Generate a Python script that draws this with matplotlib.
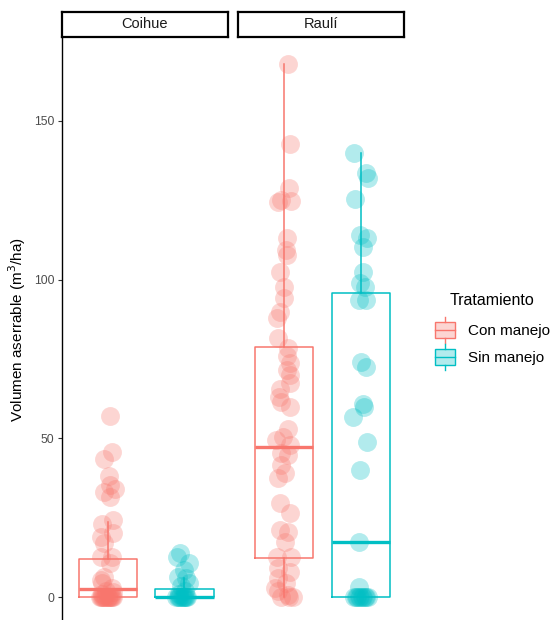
import numpy as np
import matplotlib
matplotlib.use("Agg")
import matplotlib.pyplot as plt
from matplotlib.patches import Rectangle, Patch
from matplotlib.lines import Line2D
from matplotlib.legend_handler import HandlerBase

plt.rcParams['font.family'] = ['Liberation Sans', 'DejaVu Sans']

especies = ["Coihue", "Raulí"]
tratamientos = ["Con manejo", "Sin manejo"]
colores = ["#F8766D", "#00BFC4"]

# valores (m3/ha) y desplazamiento horizontal del jitter
coihue_con = [57.0, 45.8, 43.4, 38.1, 35.3, 33.2, 33.9, 31.6, 24.3, 23.0, 20.1, 18.8,
              16.9, 12.7, 12.7, 10.6, 6.4, 4.3, 5.5, 3.0, 2.0, 1.0, 1.5,
              0, 0, 0, 0, 0, 0, 0, 0, 0, 0, 0, 0, 0, 0]
coihue_con_jit = [0.02, 0.03, -0.03, 0.01, 0.02, -0.03, 0.05, 0.02, 0.04, -0.04, 0.04, -0.05,
                  -0.03, 0.03, -0.05, 0.02, -0.03, -0.04, -0.05, 0.03, -0.01, -0.04, 0.04,
                  -0.054, -0.040, -0.025, -0.011, 0.004, 0.018, 0.033, 0.040, -0.047,
                  -0.018, 0.011, 0.025, -0.033, 0.000]
coihue_sin = [13.8, 12.6, 10.8, 8.5, 6.4, 5.9, 4.3, 3.5, 2.0, 1.0,
              0, 0, 0, 0, 0, 0, 0, 0, 0, 0]
coihue_sin_jit = [-0.029, -0.051, 0.031, -0.005, -0.043, 0.014, 0.031, -0.022, 0.007, -0.036,
                  -0.058, -0.043, -0.029, -0.014, 0.000, 0.014, 0.022, -0.036, -0.007, 0.007]
rauli_con = [168.0, 142.7, 128.8, 124.6, 125.1, 124.9, 113.0, 109.3, 107.8, 102.5, 97.6,
             94.1, 89.9, 88.0, 81.5, 78.4, 75.9, 73.6, 71.5, 69.9, 67.3, 65.7, 62.9, 61.5,
             59.8, 53.1, 50.5, 49.5, 47.9, 45.3, 44.7, 41.6, 39.0, 37.4, 29.7, 26.6, 21.1,
             20.6, 17.4, 12.5, 12.5, 9.0, 8.0, 5.9, 4.3, 2.7, 1.8, 0.6, 0.1, 0.0, 0.0]
rauli_con_jit = [0.027, 0.045, 0.033, -0.045, -0.020, 0.052, 0.020, 0.016, 0.020, -0.033, -0.004,
                 -0.004, -0.027, -0.052, -0.045, 0.027, 0.020, 0.040, 0.020, 0.040, 0.040, -0.033,
                 -0.040, -0.020, 0.040, 0.027, -0.009, -0.056, 0.040, -0.020, 0.027, -0.020, 0.004,
                 -0.045, -0.033, 0.040, -0.033, 0.027, 0.009, -0.052, 0.052, -0.045, 0.040, -0.045,
                 0.016, -0.069, -0.045, 0.027, -0.020, 0.064, 0.033]
rauli_sin = [139.8, 133.5, 131.9, 125.3, 114.1, 113.0, 110.2, 102.3, 99.0, 97.8, 93.5, 93.6,
             74.1, 72.6, 60.8, 60.0, 56.8, 48.7, 40.0, 17.4, 3.3,
             0, 0, 0, 0, 0, 0, 0, 0, 0, 0]
rauli_sin_jit = [-0.051, 0.036, 0.053, -0.038, -0.002, 0.046, 0.017, 0.017, -0.007, 0.029, -0.012,
                 0.036, 0.000, 0.036, 0.017, 0.024, -0.056, 0.046, -0.002, -0.012, -0.014,
                 -0.051, -0.029, -0.007, 0.014, 0.036, 0.051, -0.036, 0.007, 0.029, -0.014]

# estadisticos de las cajas: q1, mediana, q3, bigote inferior, bigote superior
box_q1 = [[0.0, 0.0], [12.2, 0.0]]
box_med = [[2.5, 0.0], [47.3, 17.4]]
box_q3 = [[12.0, 2.6], [78.9, 95.7]]
box_lo = [[0.0, 0.0], [0.0, 0.0]]
box_hi = [[23.7, 5.9], [168.0, 139.8]]

puntos = [[(coihue_con, coihue_con_jit), (coihue_sin, coihue_sin_jit)],
          [(rauli_con, rauli_con_jit), (rauli_sin, rauli_sin_jit)]]

posiciones = [0.733, 1.286]
W, H = 553, 620


class BoxKey(HandlerBase):
    def create_artists(self, legend, orig, xd, yd, width, height, fontsize, trans):
        c = orig.get_edgecolor()
        x0, y0 = -xd, -yd
        r = Rectangle((x0, y0 + height * 0.2), width, height * 0.6,
                      facecolor=orig.get_facecolor(), edgecolor=c, lw=1.0, transform=trans)
        m = Line2D([x0, x0 + width], [y0 + height * 0.5] * 2, color=c, lw=1.0, transform=trans)
        w1 = Line2D([x0 + width / 2] * 2, [y0, y0 + height * 0.2], color=c, lw=1.0, transform=trans)
        w2 = Line2D([x0 + width / 2] * 2, [y0 + height * 0.8, y0 + height], color=c, lw=1.0,
                    transform=trans)
        return [r, m, w1, w2]


fig = plt.figure(figsize=(W / 100, H / 100), dpi=100)

paneles = [(61.5, 166.5), (238, 166)]
ax_bot = (H - 623.7) / H
ax_h = (623.7 - 36.2) / H

for i, esp in enumerate(especies):
    left, width = paneles[i]
    ax = fig.add_axes([left / W, ax_bot, width / W, ax_h])
    for j in range(2):
        c = colores[j]
        st = dict(q1=box_q1[i][j], med=box_med[i][j], q3=box_q3[i][j],
                  whislo=box_lo[i][j], whishi=box_hi[i][j], fliers=[])
        ax.bxp([st], positions=[posiciones[j]], widths=0.42, showfliers=False, showcaps=False,
               boxprops=dict(color=c, lw=1.1), whiskerprops=dict(color=c, lw=1.1),
               medianprops=dict(color=c, lw=2.4, solid_capstyle='butt'))
        vals, jit = puntos[i][j]
        ax.scatter(posiciones[j] + np.array(jit), vals, s=185, color=c, alpha=0.3,
                   linewidths=0, zorder=3)
    ax.set_xlim(0.4, 1.6)
    ax.set_ylim(-8.4, 176.7)
    ax.set_xticks([])
    for s in ["top", "right", "bottom"]:
        ax.spines[s].set_visible(False)
    if i == 0:
        ax.spines["left"].set_linewidth(1.0)
        ax.set_yticks([0, 50, 100, 150])
        ax.tick_params(axis="y", length=3, width=0.8, color="#333333",
                       labelcolor="#4D4D4D", labelsize=8.8, pad=2)
        ax.set_ylabel("Volumen aserrable (m$^{3}$/ha)", fontsize=11, labelpad=4)
    else:
        ax.spines["left"].set_visible(False)
        ax.set_yticks([])

    # tira del panel
    sx = fig.add_axes([left / W, (H - 37) / H, width / W, 25 / H])
    sx.set_xticks([])
    sx.set_yticks([])
    for s in sx.spines.values():
        s.set_linewidth(1.6)
    sx.text(0.5, 0.5, esp, ha="center", va="center", fontsize=10.5, color="#1A1A1A",
            transform=sx.transAxes)

handles = [Patch(facecolor=matplotlib.colors.to_rgba(c, 0.3), edgecolor=c) for c in colores]
fig.legend(handles, tratamientos, loc="center left",
           bbox_to_anchor=(435 / W, (H - 343.5) / H), frameon=False, fontsize=11,
           handler_map={Patch: BoxKey()}, handlelength=1.3,
           handleheight=2.24, handletextpad=0.85, labelspacing=0.06, borderpad=0,
           borderaxespad=0)
fig.text(492 / W, (H - 300.5) / H, "Tratamiento", ha="center", va="center", fontsize=11.5)

fig.savefig("out.png", dpi=100)
